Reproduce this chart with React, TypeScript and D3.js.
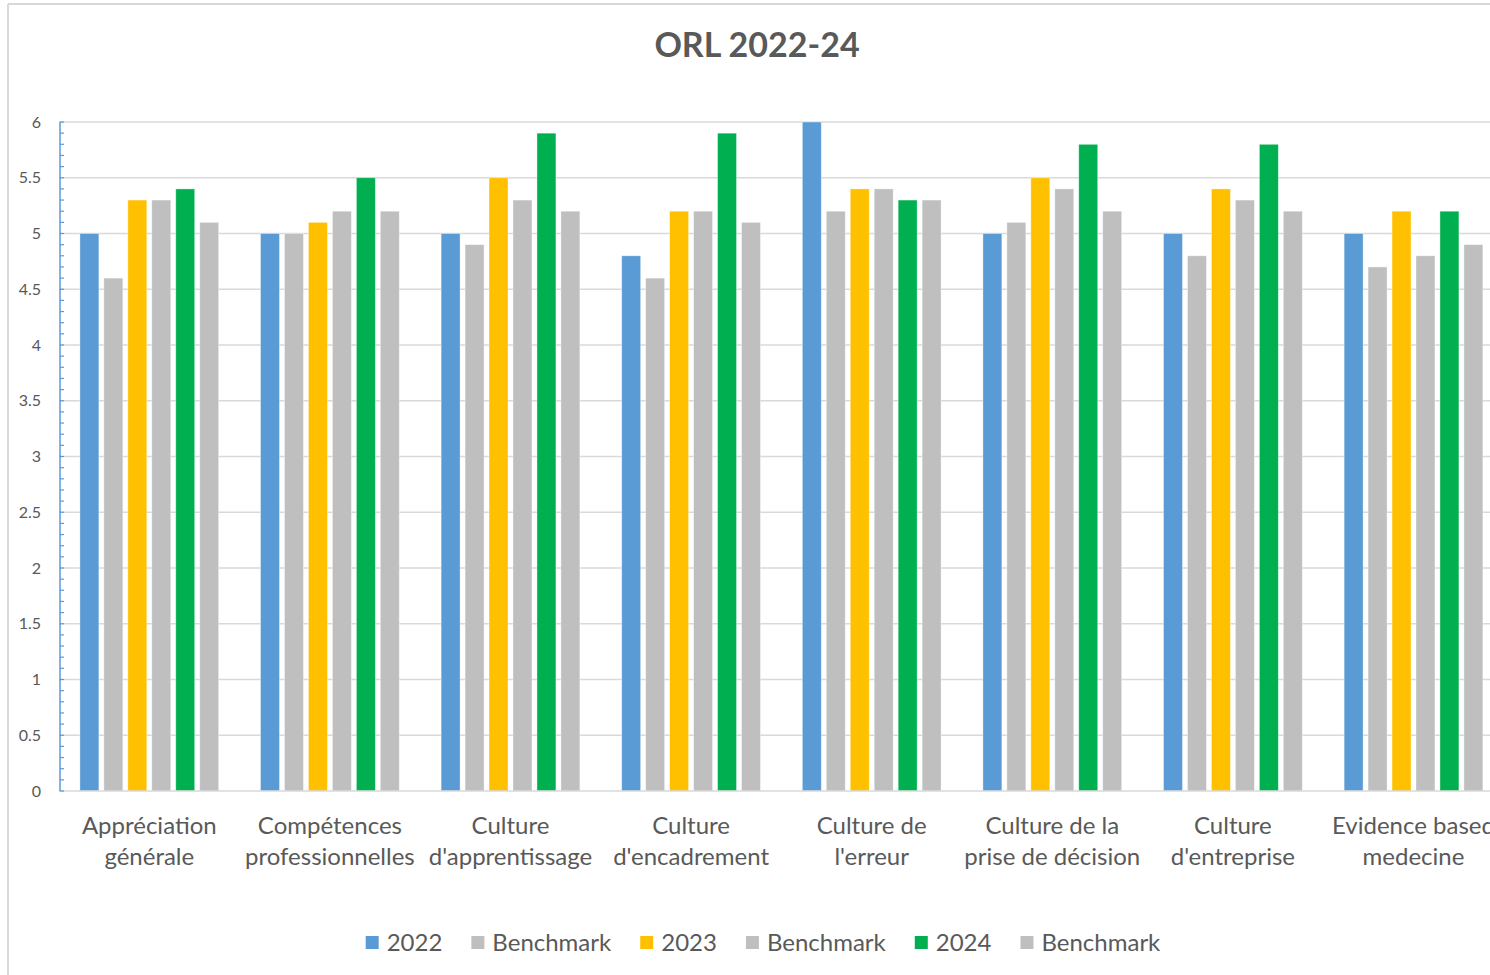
// @ts-nocheck
import * as d3 from "d3";
import React, { useRef, useEffect } from "react";

const categories = [
  "Appréciation générale",
  "Compétences professionnelles",
  "Culture d'apprentissage",
  "Culture d'encadrement",
  "Culture de l'erreur",
  "Culture de la prise de décision",
  "Culture d'entreprise",
  "Evidence based medecine",
];

// how the axis labels wrap onto two lines
const categoryLines = [
  ["Appréciation", "générale"],
  ["Compétences", "professionnelles"],
  ["Culture", "d'apprentissage"],
  ["Culture", "d'encadrement"],
  ["Culture de", "l'erreur"],
  ["Culture de la", "prise de décision"],
  ["Culture", "d'entreprise"],
  ["Evidence based", "medecine"],
];

const seriesNames = ["2022", "Benchmark", "2023", "Benchmark", "2024", "Benchmark"];
const seriesColors = ["#5b9bd5", "#bfbfbf", "#ffc000", "#bfbfbf", "#00b050", "#bfbfbf"];

const values2022 = [5.0, 5.0, 5.0, 4.8, 6.0, 5.0, 5.0, 5.0];
const bench2022 = [4.6, 5.0, 4.9, 4.6, 5.2, 5.1, 4.8, 4.7];
const values2023 = [5.3, 5.1, 5.5, 5.2, 5.4, 5.5, 5.4, 5.2];
const bench2023 = [5.3, 5.2, 5.3, 5.2, 5.4, 5.4, 5.3, 4.8];
const values2024 = [5.4, 5.5, 5.9, 5.9, 5.3, 5.8, 5.8, 5.2];
const bench2024 = [5.1, 5.2, 5.2, 5.1, 5.3, 5.2, 5.2, 4.9];

const yTicks = [0, 0.5, 1, 1.5, 2, 2.5, 3, 3.5, 4, 4.5, 5, 5.5, 6];

const FONT = "Lato, 'Open Sans', sans-serif";
const TEXT = "#595959";
const GRID = "#d9d9d9";

export default function App() {
  const svgRef = useRef<SVGSVGElement | null>(null);

  useEffect(() => {
    const width = 1490;
    const height = 975;
    const left = 59;
    const right = left + 8 * 180.6; // plot runs past the visible edge
    const top = 122;
    const bottom = 791;

    const svg = d3.select(svgRef.current).attr("width", width).attr("height", height);
    svg.selectAll("*").remove();

    svg.append("rect").attr("width", width).attr("height", height).attr("fill", "#fff");

    // chart border (only top & left visible)
    svg.append("line").attr("x1", 8).attr("x2", width).attr("y1", 4).attr("y2", 4)
      .attr("stroke", GRID).attr("stroke-width", 2);
    svg.append("line").attr("x1", 8).attr("x2", 8).attr("y1", 4).attr("y2", height)
      .attr("stroke", GRID).attr("stroke-width", 2);

    svg.append("text")
      .attr("x", 757).attr("y", 57)
      .attr("text-anchor", "middle")
      .attr("font-family", FONT).attr("font-weight", 700).attr("font-size", 34)
      .attr("fill", TEXT)
      .text("ORL 2022-24");

    const series = [values2022, bench2022, values2023, bench2023, values2024, bench2024];

    const x0 = d3.scaleBand().domain(categories).range([left, right]).paddingInner(0).paddingOuter(0);
    const x1 = d3.scaleBand().domain(d3.range(series.length)).range([0, x0.bandwidth()])
      .paddingInner(5 / 24).paddingOuter(0.873);
    const y = d3.scaleLinear().domain([0, 6]).range([bottom, top]);

    // gridlines
    svg.append("g").selectAll("line").data(yTicks.filter(d => d > 0)).join("line")
      .attr("x1", left).attr("x2", right)
      .attr("y1", d => y(d)).attr("y2", d => y(d))
      .attr("stroke", GRID).attr("stroke-width", 1.5);

    // bars
    const groups = svg.append("g").selectAll("g").data(categories).join("g")
      .attr("transform", d => `translate(${x0(d)},0)`);
    groups.selectAll("rect")
      .data((c, ci) => series.map((s, si) => ({ si, v: s[ci] })))
      .join("rect")
      .attr("x", d => x1(d.si))
      .attr("width", x1.bandwidth())
      .attr("y", d => y(d.v))
      .attr("height", d => y(0) - y(d.v))
      .attr("fill", d => seriesColors[d.si])
      .attr("stroke", "#fff").attr("stroke-opacity", 0.5).attr("stroke-width", 0.75);

    // x axis line
    svg.append("line").attr("x1", left).attr("x2", right).attr("y1", bottom).attr("y2", bottom)
      .attr("stroke", GRID).attr("stroke-width", 1.5);

    // y axis with minor ticks
    const yAxis = svg.append("g");
    yAxis.append("line").attr("x1", left + 1).attr("x2", left + 1).attr("y1", top).attr("y2", bottom)
      .attr("stroke", "#5b9bd5").attr("stroke-width", 1.5);
    yAxis.selectAll("line.minor").data(d3.range(0, 61)).join("line")
      .attr("class", "minor")
      .attr("x1", left + 1).attr("x2", left + 5)
      .attr("y1", d => y(d / 10)).attr("y2", d => y(d / 10))
      .attr("stroke", "#5b9bd5").attr("stroke-width", 1.2);

    yAxis.selectAll("text").data(yTicks).join("text")
      .attr("x", 41).attr("y", d => y(d))
      .attr("dy", "0.35em")
      .attr("text-anchor", "end")
      .attr("font-family", FONT).attr("font-size", 16).attr("fill", TEXT)
      .text(d => String(d));

    // category labels
    const labels = svg.append("g");
    categories.forEach((c, i) => {
      const cx = x0(c) + x0.bandwidth() / 2;
      categoryLines[i].forEach((line, li) => {
        labels.append("text")
          .attr("x", cx).attr("y", 834 + li * 31)
          .attr("text-anchor", "middle")
          .attr("font-family", FONT).attr("font-size", 24).attr("fill", TEXT)
          .text(line);
      });
    });

    // legend, measured and centred
    const legend = svg.append("g");
    const items = seriesNames.map((name, i) => {
      const g = legend.append("g");
      g.append("rect").attr("x", 0).attr("y", 936).attr("width", 13).attr("height", 13)
        .attr("fill", seriesColors[i]);
      const t = g.append("text").attr("x", 21).attr("y", 951)
        .attr("font-family", FONT).attr("font-size", 24).attr("fill", TEXT)
        .text(name);
      return { g, w: 21 + t.node().getComputedTextLength() };
    });
    const gap = 29;
    const total = d3.sum(items, d => d.w) + gap * (items.length - 1);
    let cursor = 763 - total / 2;
    items.forEach(it => {
      it.g.attr("transform", `translate(${cursor},0)`);
      cursor += it.w + gap;
    });
  }, []);

  return (
    <div style={{ position: "absolute", left: 0, top: 0, width: 1490, height: 975, overflow: "hidden" }}>
      <svg ref={svgRef} style={{ display: "block" }} />
    </div>
  );
}
